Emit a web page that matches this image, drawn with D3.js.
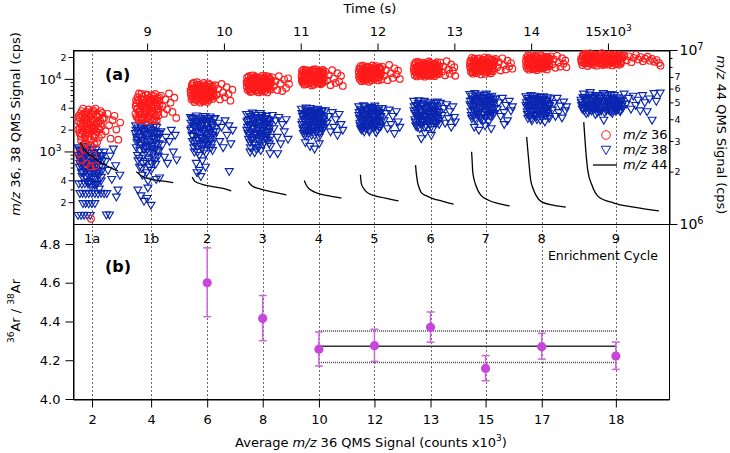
<!DOCTYPE html>
<html><head><meta charset="utf-8">
<script src="https://cdn.jsdelivr.net/npm/d3@7"></script>
<style>body{margin:0;background:#fff} svg{display:block} text{font-family:"DejaVu Sans",sans-serif}</style>
</head><body><svg id="c" width="730" height="453"></svg>
<script>
// ---------------- DATA ----------------
const cycleLabels = ["1a","1b","2","3","4","5","6","7","8","9"];
const cycleTimes = [8283, 9052, 9782, 10505, 11237, 11960, 12690, 13407, 14138, 15103];
const avgSignalLabels = ["2","4","6","8","10","12","13","15","17","18"];
const ratio     = [null, null, 4.600, 4.416, 4.257, 4.275, 4.370, 4.158, 4.270, 4.222];
const ratioHigh = [null, null, 4.780, 4.534, 4.346, 4.360, 4.449, 4.224, 4.339, 4.294];
const ratioLow  = [null, null, 4.425, 4.301, 4.170, 4.194, 4.293, 4.094, 4.206, 4.153];
const meanRatio = [4.272];
const meanBand = [4.188, 4.351];
const timeTicks = [9000, 10000, 11000, 12000, 13000, 14000, 15000];
const timeTickLabels = ["9","10","11","12","13","14","15x10^3"];
const leftTickValues = [200,300,400,500,600,700,800,900,1000,2000,3000,4000,5000,6000,7000,8000,9000,10000,20000];
const leftMajor = [1000, 10000];
const leftMinorLabeled = [200, 400, 2000, 4000, 20000];
const rightTickValues = [1e6,2e6,3e6,4e6,5e6,6e6,7e6,8e6,9e6,1e7];
const rightMajor = [1e6, 1e7];
const rightMinorLabeled = [2e6,3e6,4e6,5e6,6e6,7e6];
const bottomLeftTicks = [4.0, 4.2, 4.4, 4.6, 4.8];

// m/z 36 signal (cps) per enrichment cycle: [time s, cps]
const mz36 = [
 [[8105,2600],[8120,1800],[8130,3300],[8140,1400],[8150,2200],[8165,3900],[8175,1250],[8185,2900],[8195,1700],[8205,2400],[8215,3500],[8230,1500],[8240,2050],[8250,3000],[8262,1200],[8275,2700],[8285,1900],[8298,3700],[8310,1600],[8322,2300],[8335,3200],[8350,1350],[8365,2500],[8380,2000],[8395,3600],[8410,1700],[8420,2800],
  [8110,3100],[8124,2100],[8136,1600],[8146,3600],[8158,2500],[8170,1900],[8190,3400],[8202,1300],[8212,2800],[8224,2000],[8236,3800],[8246,1650],[8256,2350],[8268,1450],[8280,3300],[8292,2150],[8305,2750],[8316,1250],[8328,3900],[8342,1850],[8356,2950],[8372,1550],[8388,2650],[8402,2200],[8416,3400],
  [8103,2000],[8117,2900],[8132,2400],[8143,1750],[8155,3100],[8167,2250],[8178,2650],[8188,1550],[8200,3000],[8210,2100],[8220,1800],[8233,2600],[8244,3300],[8253,1950],[8265,2500],[8277,2200],[8288,3500],[8300,2550],[8313,2000],[8326,1700],[8338,2450],[8353,3000],[8368,2100],[8384,3200],[8399,2400],
  [8115,950],[8140,760],[8180,1050],[8215,680],[8260,620],[8300,900],[8330,640],[8270,118],
  [8440,2900],[8460,1900],[8485,3300],[8505,2300],[8525,1500],[8550,2700],[8575,3100],[8600,2000],[8625,1450],[8650,2500]],
 [[8850,4200],[8862,3000],[8875,5600],[8888,2700],[8900,4800],[8912,3500],[8925,6200],[8938,2900],[8950,4000],[8962,5200],[8975,3300],[8988,2600],[9000,4500],[9012,6000],[9025,3800],[9038,2800],[9050,5000],[9062,3600],[9075,4300],[9088,5800],[9100,3100],[9112,4700],[9125,2650],[9138,5400],[9150,3900],[9162,4400],
  [8856,5100],[8868,3800],[8881,2900],[8894,6300],[8906,3200],[8918,4500],[8931,2750],[8944,5700],[8956,3700],[8968,4100],[8981,6100],[8994,3400],[9006,2900],[9018,4900],[9031,5500],[9044,3300],[9056,4100],[9068,2700],[9081,5300],[9094,3900],[9106,6200],[9118,3000],[9131,4600],[9144,3500],[9156,5600],
  [8847,3300],[8859,4600],[8871,3900],[8884,5000],[8897,3600],[8909,2900],[8922,4300],[8934,5100],[8947,3400],[8959,4700],[8971,2900],[8984,4200],[8997,5300],[9009,3700],[9021,4400],[9034,3100],[9047,4800],[9059,5900],[9071,3400],[9084,4500],[9097,2800],[9109,5100],[9121,3700],[9134,4200],[9147,3100],[9159,5000],
  [9180,5900],[9200,4200],[9220,3300],[9240,5200],[9260,3800],[9285,6300],[9305,4700],[9330,3500],[9355,5500],[9380,2900]],
 [[9565,7000],[9578,5200],[9590,8600],[9602,6100],[9615,4800],[9628,7600],[9640,5600],[9652,9000],[9665,6600],[9678,5000],[9690,8000],[9702,5900],[9715,7200],[9728,4900],[9740,8800],[9752,6300],[9765,5400],[9778,7800],[9790,6900],[9802,5100],[9815,8400],[9828,6000],[9840,7400],[9852,5300],[9865,6800],
  [9570,6000],[9584,7400],[9596,5400],[9608,8900],[9621,6400],[9634,5100],[9646,7100],[9658,5800],[9671,8300],[9684,6200],[9696,4700],[9708,7800],[9721,5500],[9734,6900],[9746,8200],[9758,5000],[9771,6700],[9784,4800],[9796,8700],[9808,6300],[9821,5600],[9834,7900],[9846,6500],[9858,7300],[9870,5700],
  [9568,6500],[9581,8100],[9593,5700],[9605,7200],[9618,6700],[9631,5300],[9643,8200],[9655,6200],[9668,7300],[9681,5500],[9693,6600],[9705,7500],[9718,5200],[9731,6100],[9743,7100],[9755,5700],[9768,8000],[9781,6300],[9793,5600],[9805,7000],[9818,6100],[9831,6800],[9843,5800],[9855,8000],[9868,6300],
  [9885,8200],[9905,6000],[9925,7300],[9948,5200],[9970,8500],[9990,6500],[10012,5600],[10035,7700],[10060,6200],[10085,5000],[10110,7100]],
 [[10295,9000],[10308,7000],[10320,10800],[10333,8000],[10345,6600],[10358,9800],[10370,7400],[10383,11200],[10395,8500],[10408,6900],[10420,10200],[10433,7800],[10445,9300],[10458,6500],[10470,8800],[10483,10500],[10495,7200],[10508,9600],[10520,8200],[10533,6800],[10545,11000],[10558,7600],[10570,9100],[10583,8300],[10595,10000],[10608,7100],
  [10301,10400],[10314,8400],[10326,7300],[10339,9500],[10351,11100],[10364,6700],[10376,8900],[10389,9900],[10401,7600],[10414,10700],[10426,8300],[10439,6600],[10451,10300],[10464,7500],[10476,9400],[10489,6900],[10501,11100],[10514,8600],[10526,7400],[10539,10000],[10551,8100],[10564,6500],[10576,10600],[10589,7800],[10601,9200],[10612,8700],
  [10298,7800],[10311,9400],[10323,8700],[10336,7100],[10348,10200],[10361,8400],[10373,9700],[10386,7300],[10398,10400],[10411,8200],[10423,9000],[10436,7000],[10448,8600],[10461,10000],[10473,7800],[10486,9100],[10498,8300],[10511,7000],[10523,10300],[10536,8900],[10548,7700],[10561,9700],[10573,8000],[10586,10700],[10598,7400],[10610,9800],
  [10630,10500],[10650,8000],[10672,9300],[10695,7000],[10715,10900],[10738,8600],[10760,6800],[10785,9800],[10810,7500],[10835,10200],[10848,8500]],
 [[11010,11000],[11022,9000],[11034,13400],[11046,8300],[11058,12000],[11070,9800],[11082,10700],[11094,8600],[11106,13000],[11118,9400],[11130,11600],[11142,8100],[11154,12500],[11166,10200],[11178,9100],[11190,13600],[11202,10900],[11214,8800],[11226,12200],[11238,9600],[11250,11300],[11262,8400],[11274,12800],[11286,10000],[11298,11800],
  [11016,12800],[11028,10300],[11040,9100],[11052,11500],[11064,8500],[11076,13200],[11088,10000],[11100,11900],[11112,8900],[11124,12400],[11136,10600],[11148,9700],[11160,13400],[11172,8300],[11184,11200],[11196,9800],[11208,12600],[11220,10500],[11232,8700],[11244,13000],[11256,9900],[11268,11700],[11280,8800],[11292,12300],[11304,10400],
  [11013,9600],[11025,12100],[11037,10600],[11049,9700],[11061,13100],[11073,10200],[11085,12000],[11097,9200],[11109,11000],[11121,10200],[11133,8700],[11145,12900],[11157,11000],[11169,9600],[11181,12600],[11193,10500],[11205,9500],[11217,11500],[11229,10100],[11241,12100],[11253,9000],[11265,10900],[11277,9800],[11289,13300],[11301,9100],
  [11320,12600],[11342,9500],[11365,11300],[11388,8200],[11410,13200],[11432,10100],[11455,8800],[11478,12000],[11500,9200],[11525,11000],[11548,8000]],
 [[11755,12500],[11767,10000],[11779,15000],[11791,9300],[11803,13500],[11815,11000],[11827,12000],[11839,9700],[11851,14500],[11863,10500],[11875,13000],[11887,9100],[11899,14000],[11911,11500],[11923,10200],[11935,15300],[11947,12300],[11959,9900],[11971,13700],[11983,10800],[11995,12700],[12007,9500],[12019,14300],[12031,11200],[12043,13200],
  [11761,14000],[11773,11300],[11785,12800],[11797,10400],[11809,15200],[11821,9400],[11833,13400],[11845,11800],[11857,10100],[11869,14800],[11881,12200],[11893,10700],[11905,13100],[11917,9600],[11929,14100],[11941,11100],[11953,13600],[11965,10400],[11977,12500],[11989,15000],[12001,11700],[12013,10600],[12025,13900],[12037,12100],[12047,9800],
  [11758,10800],[11770,13600],[11782,11600],[11794,12500],[11806,10100],[11818,14200],[11830,11000],[11842,12900],[11854,11700],[11866,9800],[11878,14400],[11890,12600],[11902,11200],[11914,13400],[11926,10500],[11938,12800],[11950,11400],[11962,14600],[11974,10600],[11986,13300],[11998,11600],[12010,12200],[12022,10400],[12034,14200],[12045,11800],
  [12062,14800],[12085,11000],[12108,13200],[12130,9600],[12152,15600],[12175,12000],[12198,10300],[12220,14000],[12245,11500],[12268,13000],[12290,10000]],
 [[12472,14000],[12485,11200],[12498,17000],[12511,10800],[12524,15200],[12537,12300],[12550,13400],[12563,11000],[12576,16400],[12589,11800],[12602,14600],[12615,10700],[12628,15800],[12641,12900],[12654,11500],[12667,17400],[12680,13800],[12693,11100],[12706,15500],[12719,12100],[12732,14300],[12745,10900],[12758,16200],[12771,12600],[12784,14900],[12797,11600],
  [12478,16000],[12491,12700],[12504,14400],[12517,11600],[12530,17200],[12543,13100],[12556,15400],[12569,12000],[12582,14000],[12595,16800],[12608,11300],[12621,13600],[12634,16000],[12647,12200],[12660,14900],[12673,11000],[12686,16600],[12699,13200],[12712,12300],[12725,15900],[12738,11700],[12751,14100],[12764,13000],[12777,17000],[12790,12500],[12803,15000],
  [12475,12700],[12488,15500],[12501,13100],[12514,14700],[12527,12100],[12540,16300],[12553,11600],[12566,14500],[12579,12700],[12592,13600],[12605,15900],[12618,12500],[12631,14200],[12644,11300],[12657,16200],[12670,13200],[12683,12000],[12696,14800],[12709,13700],[12722,11300],[12735,15700],[12748,12800],[12761,14600],[12774,11700],[12787,13600],[12800,12900],
  [12820,16800],[12840,12500],[12860,14800],[12880,11200],[12900,17500],[12920,13500],[12940,11800],[12960,15800],[12980,12900],[13000,14500],[13012,11000]],
 [[13202,16000],[13215,12500],[13228,19500],[13241,11800],[13254,17500],[13267,13800],[13280,15000],[13293,12000],[13306,18800],[13319,13200],[13332,16500],[13345,11500],[13358,18000],[13371,14500],[13384,12800],[13397,19800],[13410,15500],[13423,12300],[13436,17200],[13449,13500],[13462,16200],[13475,11900],[13488,18500],[13501,14000],[13514,16800],
  [13208,17800],[13221,14200],[13234,12300],[13247,16200],[13260,19000],[13273,12600],[13286,17600],[13299,14900],[13312,13000],[13325,19200],[13338,15200],[13351,12700],[13364,16800],[13377,13900],[13390,18300],[13403,11700],[13416,17000],[13429,14700],[13442,19400],[13455,12500],[13468,15700],[13481,17900],[13494,13300],[13507,15100],[13520,18000],
  [13205,14300],[13218,17000],[13231,15200],[13244,13200],[13257,15800],[13270,18200],[13283,13200],[13296,16100],[13309,14400],[13322,17300],[13335,13700],[13348,15900],[13361,14900],[13374,17700],[13387,15600],[13400,13400],[13413,16600],[13426,13800],[13439,15300],[13452,18600],[13465,14400],[13478,16700],[13491,15200],[13504,12700],[13517,17300],
  [13537,18800],[13558,14500],[13580,17000],[13602,13000],[13625,19200],[13648,15500],[13670,13500],[13692,17800],[13715,14800],[13738,16500],[13756,13800]],
 [[13932,17500],[13945,14000],[13958,21000],[13971,13400],[13984,19000],[13997,15500],[14010,16700],[14023,13600],[14036,20300],[14049,14800],[14062,18200],[14075,13200],[14088,19700],[14101,16000],[14114,14300],[14127,21200],[14140,17000],[14153,13900],[14166,18800],[14179,15200],[14192,17800],[14205,13500],[14218,20000],[14231,15800],[14240,18500],
  [13938,19800],[13951,15800],[13964,17300],[13977,14600],[13990,20800],[14003,16300],[14016,18600],[14029,14000],[14042,17600],[14055,20900],[14068,15400],[14081,17000],[14094,14100],[14107,19000],[14120,16600],[14133,13800],[14146,20500],[14159,15600],[14172,17400],[14185,19900],[14198,14600],[14211,16800],[14224,18900],[14236,14900],
  [13935,15200],[13948,18500],[13961,16200],[13974,19500],[13987,14400],[14000,17900],[14013,15400],[14026,19200],[14039,16100],[14052,13800],[14065,19600],[14078,16400],[14091,17900],[14104,14900],[14117,18400],[14130,15600],[14143,19100],[14156,16900],[14169,14300],[14182,17300],[14195,20100],[14208,15100],[14221,17100],[14234,19300],
  [14255,20500],[14275,15800],[14296,18500],[14317,14200],[14338,20800],[14360,16800],[14380,14800],[14402,19300],[14423,16200],[14445,18000],[14460,14500]],
 [[14650,19000],[14667,15500],[14684,22000],[14701,16500],[14718,20500],[14735,15000],[14752,18000],[14769,22500],[14786,16000],[14803,19500],[14820,17200],[14837,21500],[14854,15200],[14871,18800],[14888,20000],[14905,16800],[14922,22700],[14939,17500],[14956,15800],[14973,21000],[14990,18300],[15007,16200],[15024,20300],[15041,17800],[15058,15300],[15075,19200],[15092,21800],[15109,16600],[15126,18600],[15143,15600],[15160,20800],[15177,17300],[15190,19800],
  [14658,17000],[14675,20500],[14692,18000],[14709,22300],[14726,16800],[14743,19800],[14760,16200],[14777,20700],[14794,18500],[14811,15600],[14828,21000],[14845,17800],[14862,19600],[14879,16300],[14896,22000],[14913,18200],[14930,15500],[14947,20300],[14964,17100],[14981,19400],[14998,15700],[15015,21800],[15032,18900],[15049,16500],[15066,20800],[15083,17400],[15100,15900],[15117,20000],[15134,17600],[15151,19100],[15168,16100],[15185,21200],
  [14654,17800],[14671,21000],[14688,16400],[14705,19100],[14722,17700],[14739,21200],[14756,19300],[14773,17300],[14790,20700],[14807,16800],[14824,18900],[14841,20200],[14858,16900],[14875,21300],[14892,18100],[14909,19900],[14926,16400],[14943,18800],[14960,21400],[14977,16900],[14994,20000],[15011,17700],[15028,19500],[15045,21100],[15062,17000],[15079,18500],[15096,20300],[15113,17900],[15130,21000],[15147,18300],[15164,16900],[15181,19400],
  [15215,21000],[15245,18000],[15275,20500],[15305,17000],[15335,19500],[15365,21500],[15395,18500],[15425,20000],[15455,17500],[15485,19000],[15515,20200],[15545,17800],[15575,18800],[15605,17200],[15635,18200],[15665,16500],[15685,15200]]
];

// m/z 38 signal (cps) per enrichment cycle: [time s, cps]
const mz38 = [
 [[8105,1150],[8118,820],[8128,1000],[8140,640],[8150,900],[8162,530],[8175,1200],[8185,700],[8198,460],[8210,1050],[8222,580],[8235,380],[8248,850],[8260,500],[8272,330],[8285,740],[8298,420],[8310,950],[8325,560],[8340,360],[8355,660],[8370,480],[8385,800],[8400,400],[8415,620],
  [8110,1100],[8122,700],[8134,900],[8145,520],[8156,780],[8168,1000],[8180,600],[8192,850],[8204,440],[8216,700],[8228,1150],[8242,620],[8254,390],[8266,960],[8278,560],[8290,450],[8304,820],[8318,350],[8332,1080],[8346,500],[8362,720],[8378,310],[8392,900],[8408,540],[8420,760],
  [8103,900],[8116,620],[8131,760],[8142,1050],[8153,460],[8166,700],[8179,880],[8190,540],[8202,1000],[8214,610],[8226,800],[8238,470],[8250,700],[8263,900],[8276,620],[8288,1100],[8301,540],[8314,720],[8328,430],[8344,850],[8359,560],[8374,990],[8389,640],[8404,450],[8418,880],
  [8110,365],[8150,362],[8190,366],[8230,364],[8270,365],[8310,363],[8350,366],
  [8125,268],[8160,270],[8200,266],[8240,268],[8280,270],[8320,268],[8360,266],[8400,270],[8440,268],[8475,268],
  [8165,195],[8200,196],[8240,194],[8280,196],[8320,195],
  [8100,134],[8140,134],[8180,135],[8220,134],[8260,134],[8470,136],[8510,136],
  [8440,1000],[8460,740],[8490,560],[8520,880],[8540,420],[8560,1100],[8590,650],[8620,300],[8645,480],[8600,240]],
 [[8850,2300],[8862,1600],[8875,900],[8888,1900],[8900,620],[8912,1300],[8925,2100],[8938,480],[8950,1100],[8962,1700],[8975,750],[8988,2350],[9000,1400],[9012,400],[9025,1000],[9038,1800],[9050,560],[9062,1200],[9075,2000],[9088,850],[9100,1500],[9112,680],[9125,2200],[9138,1050],[9150,1600],[9162,440],
  [8856,2000],[8868,1350],[8881,760],[8894,1600],[8906,1050],[8918,2250],[8931,600],[8944,1450],[8956,900],[8968,1900],[8981,1150],[8994,520],[9006,1700],[9018,800],[9031,2150],[9044,1250],[9056,700],[9068,1550],[9081,950],[9094,2300],[9106,1100],[9118,420],[9131,1750],[9144,880],[9156,1300],
  [8847,1800],[8859,1150],[8871,1450],[8884,2150],[8897,820],[8909,1600],[8922,1250],[8934,2000],[8947,700],[8959,1350],[8971,1750],[8984,1000],[8997,2100],[9009,1200],[9021,1500],[9034,620],[9047,1400],[9059,1850],[9071,1100],[9084,1650],[9097,760],[9109,1900],[9121,1300],[9134,1550],[9147,1000],[9159,1800],
  [8880,300],[8920,250],[8960,210],[9000,230],[9050,185],[9010,320],
  [9180,1900],[9200,1250],[9225,850],[9245,1600],[9265,700],[9290,1400],[9315,2000],[9340,1000],[9365,1700],[9385,780]],
 [[9565,3000],[9578,2100],[9590,1400],[9602,2600],[9615,1000],[9628,1800],[9640,3150],[9652,1200],[9665,2300],[9678,900],[9690,1600],[9702,2800],[9715,1100],[9728,2000],[9740,1350],[9752,3100],[9765,950],[9778,2400],[9790,1700],[9802,1250],[9815,2700],[9828,1500],[9840,2200],[9852,1050],[9865,1900],
  [9570,2500],[9584,1700],[9596,2900],[9608,1150],[9621,2200],[9634,1450],[9646,2650],[9658,1000],[9671,1900],[9684,2950],[9696,1300],[9708,2100],[9721,1550],[9734,2750],[9746,1050],[9758,1800],[9771,2500],[9784,1250],[9796,2050],[9808,1600],[9821,3050],[9834,1150],[9846,2350],[9858,1700],[9870,2800],
  [9568,2000],[9581,2800],[9593,1650],[9605,2300],[9618,1300],[9631,2650],[9643,1900],[9655,2450],[9668,1450],[9681,2150],[9693,2600],[9705,1550],[9718,2350],[9731,1250],[9743,1950],[9755,2700],[9768,1500],[9781,2100],[9793,2900],[9805,1400],[9818,1850],[9831,2550],[9843,1300],[9855,2200],[9868,1600],
  [9640,700],[9680,560],[9720,760],[9700,460],[9760,620],[9650,520],
  [9885,2900],[9905,1900],[9925,2500],[9945,1400],[9970,2200],[9990,1150],[10015,2700],[10040,1700],[10065,2300],[10090,1300],[10115,2000],[10070,540]],
 [[10295,3300],[10308,2200],[10320,1500],[10333,2800],[10345,1150],[10358,1900],[10370,3450],[10383,1300],[10395,2500],[10408,1700],[10420,1100],[10433,3000],[10445,2000],[10458,1400],[10470,2700],[10483,1800],[10495,3200],[10508,1250],[10520,2300],[10533,1600],[10545,2900],[10558,1900],[10570,1450],[10583,2600],[10595,2100],[10608,1200],
  [10301,2600],[10314,1800],[10326,3300],[10339,1350],[10351,2400],[10364,1600],[10376,2900],[10389,2100],[10401,1250],[10414,3200],[10426,1750],[10439,2500],[10451,1150],[10464,2200],[10476,3400],[10489,1500],[10501,2000],[10514,2800],[10526,1350],[10539,2400],[10551,3100],[10564,1700],[10576,2200],[10589,1300],[10601,2700],
  [10298,2000],[10311,2700],[10323,1700],[10336,2300],[10348,3100],[10361,1450],[10373,2200],[10386,2600],[10398,1800],[10411,2350],[10423,2900],[10436,1550],[10448,2150],[10461,1800],[10473,2500],[10486,3000],[10498,1650],[10511,2600],[10523,1900],[10536,2200],[10548,1500],[10561,2500],[10573,2800],[10586,1900],[10598,2400],[10610,1600],
  [10340,1000],[10400,980],[10480,1050],[10600,950],
  [10630,3200],[10650,2100],[10672,2700],[10695,1600],[10715,3000],[10738,1300],[10760,2400],[10785,1900],[10810,2800],[10835,1500],[10700,950]],
 [[11010,3900],[11022,2600],[11034,1800],[11046,3300],[11058,2200],[11070,4050],[11082,1650],[11094,2900],[11106,2000],[11118,3600],[11130,2400],[11142,1700],[11154,3100],[11166,2100],[11178,3800],[11190,2700],[11202,1900],[11214,3400],[11226,2300],[11238,1600],[11250,3000],[11262,2500],[11274,3700],[11286,2000],[11298,2800],
  [11016,3400],[11028,2100],[11040,2800],[11052,1700],[11064,3700],[11076,2300],[11088,3200],[11100,1800],[11112,2600],[11124,4000],[11136,1900],[11148,2900],[11160,2300],[11172,3500],[11184,1700],[11196,3000],[11208,2200],[11220,3900],[11232,2600],[11244,1800],[11256,3300],[11268,2100],[11280,3600],[11292,2400],[11304,3100],
  [11013,2400],[11025,3100],[11037,2000],[11049,2700],[11061,3400],[11073,1900],[11085,2600],[11097,3600],[11109,2300],[11121,2900],[11133,3300],[11145,2200],[11157,2700],[11169,3700],[11181,2000],[11193,3200],[11205,2500],[11217,2900],[11229,3500],[11241,2100],[11253,2700],[11265,3200],[11277,2300],[11289,2900],[11301,2200],
  [11060,1350],[11120,1200],[11180,1100],[11240,1300],
  [11320,3700],[11342,2500],[11365,3100],[11388,1900],[11410,3500],[11432,2200],[11455,2800],[11478,1700],[11500,3300],[11525,2400],[11548,2000]],
 [[11755,4200],[11767,2900],[11779,2100],[11791,3600],[11803,2500],[11815,4350],[11827,1900],[11839,3200],[11851,2300],[11863,3900],[11875,2700],[11887,2000],[11899,3400],[11911,2400],[11923,4100],[11935,3000],[11947,2150],[11959,3700],[11971,2600],[11983,1850],[11995,3300],[12007,2800],[12019,4000],[12031,2200],[12043,3100],
  [11761,3500],[11773,2300],[11785,3900],[11797,2000],[11809,3100],[11821,2700],[11833,4200],[11845,2100],[11857,3600],[11869,2500],[11881,3300],[11893,1900],[11905,4000],[11917,2800],[11929,3500],[11941,2200],[11953,3000],[11965,4300],[11977,2400],[11989,3400],[12001,2000],[12013,3800],[12025,2600],[12037,3500],[12047,2300],
  [11758,3200],[11770,2500],[11782,3700],[11794,2800],[11806,2200],[11818,3400],[11830,2900],[11842,3800],[11854,2600],[11866,3100],[11878,2200],[11890,3600],[11902,2700],[11914,3300],[11926,2400],[11938,3900],[11950,2800],[11962,3200],[11974,2300],[11986,3700],[11998,2700],[12010,3200],[12022,2200],[12034,3000],[12045,2600],
  [12062,4000],[12085,2700],[12108,3400],[12130,2100],[12152,3800],[12175,2400],[12198,3100],[12220,1800],[12245,3600],[12268,2600],[12290,2200]],
 [[12472,5000],[12485,3400],[12498,2300],[12511,4300],[12524,2900],[12537,5100],[12550,2100],[12563,3800],[12576,2600],[12589,4600],[12602,3100],[12615,2200],[12628,4000],[12641,2800],[12654,4800],[12667,3500],[12680,2400],[12693,4400],[12706,3000],[12719,2050],[12732,3900],[12745,3300],[12758,4700],[12771,2500],[12784,3600],[12797,2700],
  [12478,4200],[12491,2600],[12504,3700],[12517,2200],[12530,4700],[12543,3000],[12556,3500],[12569,2400],[12582,4300],[12595,2800],[12608,5000],[12621,3300],[12634,2300],[12647,4100],[12660,2700],[12673,4600],[12686,3100],[12699,2200],[12712,3800],[12725,2900],[12738,4400],[12751,2500],[12764,3600],[12777,4900],[12790,3200],[12803,2400],
  [12475,3700],[12488,2800],[12501,4400],[12514,3200],[12527,2600],[12540,4000],[12553,3500],[12566,2700],[12579,4500],[12592,3200],[12605,2600],[12618,3900],[12631,3000],[12644,4300],[12657,2500],[12670,3700],[12683,3300],[12696,2700],[12709,4200],[12722,3400],[12735,2600],[12748,3800],[12761,3000],[12774,4300],[12787,2900],[12800,3500],
  [12570,1530],[12620,1800],[12700,1700],
  [12820,4700],[12840,3200],[12860,4000],[12880,2500],[12900,4500],[12920,2900],[12940,3600],[12960,2200],[12980,4200],[13000,3000],[13012,2600]],
 [[13202,6200],[13215,4300],[13228,2900],[13241,5400],[13254,3600],[13267,6400],[13280,2700],[13293,4800],[13306,3300],[13319,5800],[13332,3900],[13345,2800],[13358,5100],[13371,3500],[13384,6000],[13397,4400],[13410,3000],[13423,5600],[13436,3800],[13449,2600],[13462,4900],[13475,4100],[13488,5900],[13501,3200],[13514,4600],
  [13208,5000],[13221,3200],[13234,5900],[13247,3800],[13260,4600],[13273,2900],[13286,5300],[13299,3600],[13312,6100],[13325,4100],[13338,3000],[13351,5600],[13364,4400],[13377,2700],[13390,5000],[13403,3700],[13416,6300],[13429,3300],[13442,4500],[13455,5700],[13468,3100],[13481,4800],[13494,3500],[13507,5400],[13520,4000],
  [13205,4500],[13218,3600],[13231,5200],[13244,4200],[13257,3200],[13270,5000],[13283,3900],[13296,5600],[13309,4300],[13322,3400],[13335,4800],[13348,3900],[13361,5500],[13374,3300],[13387,4600],[13400,5200],[13413,3600],[13426,4200],[13439,5000],[13452,3300],[13465,4400],[13478,5300],[13491,3800],[13504,4900],[13517,3400],
  [13260,2200],[13320,2000],[13400,2300],[13480,2100],
  [13537,5400],[13558,3900],[13580,4800],[13602,3100],[13625,5500],[13648,3500],[13670,4400],[13692,2700],[13715,5000],[13738,3700],[13756,4200],[13650,2400]],
 [[13932,5800],[13945,4100],[13958,2900],[13971,5200],[13984,3500],[13997,6000],[14010,2700],[14023,4600],[14036,3200],[14049,5500],[14062,3800],[14075,2800],[14088,5000],[14101,3400],[14114,5700],[14127,4200],[14140,3000],[14153,5300],[14166,3700],[14179,2600],[14192,4700],[14205,4000],[14218,5600],[14231,3100],[14240,4400],
  [13938,4800],[13951,3300],[13964,5500],[13977,3900],[13990,4400],[14003,2900],[14016,5100],[14029,3600],[14042,5900],[14055,4100],[14068,3100],[14081,4700],[14094,5400],[14107,3700],[14120,2750],[14133,4900],[14146,3400],[14159,5800],[14172,4300],[14185,3200],[14198,5200],[14211,3600],[14224,4500],[14236,2900],
  [13935,4400],[13948,3600],[13961,5000],[13974,4300],[13987,3100],[14000,4800],[14013,3800],[14026,5300],[14039,4000],[14052,3300],[14065,4600],[14078,3700],[14091,5200],[14104,4400],[14117,3300],[14130,4700],[14143,3900],[14156,5000],[14169,3500],[14182,4400],[14195,3800],[14208,5000],[14221,3400],[14234,4200],
  [14255,5400],[14275,3800],[14296,4700],[14317,3100],[14338,5500],[14360,3500],[14380,4300],[14402,2950],[14423,4900],[14445,3700],[14460,4200]],
 [[14650,5200],[14667,3900],[14684,6300],[14701,4500],[14718,3400],[14735,5700],[14752,4200],[14769,6600],[14786,3700],[14803,5000],[14820,4400],[14837,3300],[14854,6000],[14871,4700],[14888,3600],[14905,5500],[14922,4100],[14939,6400],[14956,3500],[14973,4900],[14990,5800],[15007,3800],[15024,4600],[15041,6200],[15058,3400],[15075,5300],[15092,4300],[15109,3900],[15126,5600],[15143,4800],[15160,3600],[15177,5100],[15190,4000],
  [14658,4400],[14675,5600],[14692,3700],[14709,5300],[14726,4600],[14743,3500],[14760,6100],[14777,4300],[14794,5500],[14811,3800],[14828,5200],[14845,4600],[14862,3500],[14879,5900],[14896,4200],[14913,3700],[14930,5100],[14947,4500],[14964,6100],[14981,3900],[14998,5000],[15015,4400],[15032,3600],[15049,5500],[15066,4100],[15083,6000],[15100,3700],[15117,4700],[15134,4200],[15151,5400],[15168,3800],[15185,4600],
  [14654,4800],[14671,4100],[14688,5600],[14705,4000],[14722,5000],[14739,4300],[14756,3800],[14773,5400],[14790,4500],[14807,4100],[14824,5700],[14841,3900],[14858,4900],[14875,4300],[14892,5200],[14909,3900],[14926,4800],[14943,5500],[14960,4200],[14977,3700],[14994,4500],[15011,5200],[15028,4000],[15045,4800],[15062,3700],[15079,4500],[15096,5100],[15113,4400],[15130,3800],[15147,4400],[15164,5000],[15181,4300],
  [14946,2750],
  [15210,6300],[15240,4600],[15270,5500],[15300,3900],[15330,5900],[15360,4400],[15390,5200],[15420,3700],[15450,6000],[15480,4800],[15510,3600],[15540,5400],[15575,2750],[15600,6400],[15630,5000],[15680,6500]]
];

// m/z 44 signal (cps) per enrichment cycle: [time s, cps]
const mz44 = [
 [[8126,2.95e6],[8200,2.62e6],[8296,2.42e6],[8380,2.28e6],[8465,2.17e6],[8545,2.08e6],[8622,2.02e6]],
 [[8857,2.0e6],[8920,1.9e6],[8974,1.85e6],[9060,1.8e6],[9143,1.78e6],[9240,1.76e6],[9339,1.73e6]],
 [[9587,1.86e6],[9620,1.76e6],[9665,1.72e6],[9740,1.68e6],[9822,1.65e6],[9991,1.6e6],[10095,1.55e6]],
 [[10317,1.76e6],[10350,1.68e6],[10382,1.64e6],[10450,1.6e6],[10513,1.57e6],[10660,1.52e6],[10813,1.47e6]],
 [[11047,1.78e6],[11070,1.68e6],[11099,1.61e6],[11150,1.55e6],[11204,1.51e6],[11370,1.45e6],[11530,1.41e6]],
 [[11777,1.92e6],[11790,1.7e6],[11820,1.6e6],[11856,1.53e6],[11947,1.46e6],[12100,1.41e6],[12273,1.36e6]],
 [[12495,2.18e6],[12505,1.95e6],[12521,1.74e6],[12545,1.6e6],[12573,1.51e6],[12640,1.45e6],[12703,1.41e6],[12850,1.35e6],[12990,1.3e6]],
 [[13225,2.6e6],[13232,2.3e6],[13238,2.04e6],[13255,1.82e6],[13277,1.68e6],[13342,1.47e6],[13447,1.37e6],[13580,1.31e6],[13721,1.27e6]],
 [[13942,3.16e6],[13955,2.7e6],[13968,2.33e6],[13994,1.79e6],[14030,1.58e6],[14060,1.47e6],[14138,1.34e6],[14300,1.28e6],[14451,1.25e6]],
 [[14685,3.85e6],[14698,3.2e6],[14711,2.66e6],[14737,2.04e6],[14790,1.68e6],[14881,1.43e6],[15077,1.32e6],[15337,1.25e6],[15663,1.19e6]]
];

// ---------------- DRAW ----------------
const FONT = '"DejaVu Sans", sans-serif';
const svg = d3.select('#c');
const x = d3.scaleLinear().domain([8035, 15795]).range([73, 669]);
const yL = d3.scaleLog().domain([100, 25000]).range([224, 50]);
const yR = d3.scaleLog().domain([1e6, 1e7]).range([224, 50]);
const yB = d3.scaleLinear().domain([4.0, 4.9]).range([399, 224.6]);
const px = v => Math.round(v) + 0.5;

// dashed cycle lines
svg.append('g').selectAll('line').data(cycleTimes).join('line')
  .attr('x1', d => px(x(d))).attr('x2', d => px(x(d)))
  .attr('y1', 50).attr('y2', 399)
  .attr('stroke', '#6a6a6a').attr('stroke-width', 1).attr('stroke-dasharray', '2,2');

// frame
svg.append('rect').attr('x', 73.5).attr('y', 50.5).attr('width', 596).attr('height', 349)
  .attr('fill', 'none').attr('stroke', '#000').attr('stroke-width', 1);
svg.append('line').attr('x1', 73).attr('x2', 670).attr('y1', 224.5).attr('y2', 224.5)
  .attr('stroke', '#000').attr('stroke-width', 1);

function sup(textSel, base, exp) {
  textSel.text(null);
  textSel.append('tspan').text(base);
  textSel.append('tspan').attr('dy', '-0.55em').attr('font-size', '0.7em').text(exp);
}
function styleAxis(g, size) {
  g.attr('font-family', FONT).attr('font-size', size);
  g.selectAll('path.domain').attr('stroke', '#000');
  g.selectAll('.tick line').attr('stroke', '#000');
  g.selectAll('.tick text').attr('fill', '#000');
}

// top time axis
const gTop = svg.append('g').attr('transform', 'translate(0,50.5)')
  .call(d3.axisTop(x).tickValues(timeTicks).tickSize(7).tickSizeOuter(0).tickPadding(8)
    .tickFormat((d, i) => timeTickLabels[i]));
styleAxis(gTop, 13);
gTop.selectAll('.tick text').each(function(d, i) {
  const s = timeTickLabels[i];
  if (s.includes('^')) { const [b, e] = s.split('^'); sup(d3.select(this), b, e); }
});
svg.append('text').attr('x', 370).attr('y', 13).attr('text-anchor', 'middle')
  .attr('font-size', 13).text('Time (s)');

// left log axis (a)
const gL = svg.append('g').attr('transform', 'translate(73.5,0)')
  .call(d3.axisLeft(yL).tickValues(leftTickValues).tickSizeOuter(0).tickFormat(''));
styleAxis(gL, 13);
gL.selectAll('.tick').each(function(d) {
  const t = d3.select(this);
  const line = t.select('line'), txt = t.select('text');
  if (leftMajor.includes(d)) {
    line.attr('x2', -9);
    txt.attr('x', -12).attr('font-size', 13);
    sup(txt, '10', String(Math.round(Math.log10(d))));
  } else if (leftMinorLabeled.includes(d)) {
    line.attr('x2', -5);
    txt.attr('x', -7).attr('font-size', 9.5).text(String(d / Math.pow(10, Math.floor(Math.log10(d)))));
  } else {
    line.attr('x2', -3);
  }
});

// right log axis (a)
const gR = svg.append('g').attr('transform', 'translate(669.5,0)')
  .call(d3.axisRight(yR).tickValues(rightTickValues).tickSizeOuter(0).tickFormat(''));
styleAxis(gR, 13);
gR.selectAll('.tick').each(function(d) {
  const t = d3.select(this);
  const line = t.select('line'), txt = t.select('text');
  if (rightMajor.includes(d)) {
    line.attr('x2', 8);
    txt.attr('x', 10).attr('font-size', 14);
    sup(txt, '10', String(Math.round(Math.log10(d))));
  } else if (rightMinorLabeled.includes(d)) {
    line.attr('x2', 4);
    txt.attr('x', 5).attr('font-size', 9.5).text(String(d / 1e6));
  } else {
    line.attr('x2', 3);
  }
});

// left linear axis (b)
const gB = svg.append('g').attr('transform', 'translate(73.5,0)')
  .call(d3.axisLeft(yB).tickValues(bottomLeftTicks).tickSize(8).tickPadding(5).tickSizeOuter(0)
    .tickFormat(d3.format('.1f')));
styleAxis(gB, 13);

// bottom axis
const gX = svg.append('g').attr('transform', 'translate(0,399.5)')
  .call(d3.axisBottom(x).tickValues(cycleTimes).tickSize(8).tickPadding(7).tickSizeOuter(0)
    .tickFormat((d, i) => avgSignalLabels[i]));
styleAxis(gX, 13);

// cycle labels
svg.append('g').selectAll('text').data(cycleTimes).join('text')
  .attr('x', d => x(d)).attr('y', 243).attr('text-anchor', 'middle').attr('font-size', 13)
  .text((d, i) => cycleLabels[i]);
svg.append('text').attr('x', 658).attr('y', 260).attr('text-anchor', 'end').attr('font-size', 12.5)
  .text('Enrichment Cycle');

// m/z 38 triangles
const tri = d3.symbol().type(d3.symbolTriangle).size(27)();
svg.append('g').selectAll('path').data(mz38.flat()).join('path')
  .attr('d', tri)
  .attr('transform', d => `translate(${x(d[0])},${yL(d[1])}) rotate(180)`)
  .attr('fill', 'none').attr('stroke', '#0a26b0').attr('stroke-width', 1.15);

// m/z 36 circles
svg.append('g').selectAll('circle').data(mz36.flat()).join('circle')
  .attr('cx', d => x(d[0])).attr('cy', d => yL(d[1])).attr('r', 3.3)
  .attr('fill', 'none').attr('stroke', '#ff1a1a').attr('stroke-width', 1.15);

// m/z 44 lines
const line44 = d3.line().x(d => x(d[0])).y(d => yR(d[1])).curve(d3.curveMonotoneX);
svg.append('g').selectAll('path').data(mz44).join('path')
  .attr('d', line44).attr('fill', 'none').attr('stroke', '#000').attr('stroke-width', 1.3);

// panel labels
svg.append('text').attr('x', 105).attr('y', 80).attr('font-size', 16).attr('font-weight', 'bold').text('(a)');
svg.append('text').attr('x', 105).attr('y', 272).attr('font-size', 16).attr('font-weight', 'bold').text('(b)');

// legend
const lg = svg.append('g').attr('font-size', 13);
lg.append('circle').attr('cx', 606).attr('cy', 135).attr('r', 4.3).attr('fill', 'none')
  .attr('stroke', '#ff1a1a').attr('stroke-width', 1);
lg.append('path').attr('d', d3.symbol().type(d3.symbolTriangle).size(40)())
  .attr('transform', 'translate(606,149) rotate(180)').attr('fill', 'none')
  .attr('stroke', '#0a26b0').attr('stroke-width', 1);
lg.append('line').attr('x1', 593).attr('x2', 617).attr('y1', 165).attr('y2', 165)
  .attr('stroke', '#000').attr('stroke-width', 1.3);
[['36', 139], ['38', 154], ['44', 169]].forEach(([m, yy]) => {
  const t = lg.append('text').attr('x', 623).attr('y', yy);
  t.append('tspan').attr('font-style', 'italic').text('m/z');
  t.append('tspan').text(' ' + m);
});

// axis titles
const tl = svg.append('text').attr('transform', 'translate(20,124) rotate(-90)')
  .attr('text-anchor', 'middle').attr('font-size', 13);
tl.append('tspan').attr('font-style', 'italic').text('m/z');
tl.append('tspan').text(' 36, 38 QMS Signal (cps)');

const tr = svg.append('text').attr('transform', 'translate(717,135) rotate(90)')
  .attr('text-anchor', 'middle').attr('font-size', 13);
tr.append('tspan').attr('font-style', 'italic').text('m/z');
tr.append('tspan').text(' 44 QMS Signal (cps)');

const tb = svg.append('text').attr('transform', 'translate(20,311) rotate(-90)')
  .attr('text-anchor', 'middle').attr('font-size', 13);
tb.append('tspan').attr('font-size', 9).attr('dy', -6).text('36');
tb.append('tspan').attr('dy', 6).text('Ar / ');
tb.append('tspan').attr('font-size', 9).attr('dy', -6).text('38');
tb.append('tspan').attr('dy', 6).text('Ar');

const tx = svg.append('text').attr('x', 371).attr('y', 447).attr('text-anchor', 'middle').attr('font-size', 13);
tx.append('tspan').text('Average ');
tx.append('tspan').attr('font-style', 'italic').text('m/z');
tx.append('tspan').text(' 36 QMS Signal (counts x10');
tx.append('tspan').attr('font-size', 9).attr('dy', -6).text('3');
tx.append('tspan').attr('dy', 6).text(')');

// panel (b): mean line and band
const x0 = x(cycleTimes[4]), x1 = x(cycleTimes[9]);
svg.append('g').selectAll('line').data(meanBand).join('line')
  .attr('x1', x0).attr('x2', x1).attr('y1', d => yB(d)).attr('y2', d => yB(d))
  .attr('stroke', '#444').attr('stroke-width', 1.5).attr('stroke-dasharray', '1,1');
svg.append('g').selectAll('line').data(meanRatio).join('line')
  .attr('x1', x0).attr('x2', x1).attr('y1', d => yB(d)).attr('y2', d => yB(d))
  .attr('stroke', '#333').attr('stroke-width', 1.5);

// ratio points with error bars
const pts = cycleTimes.map((t, i) => ({ t, v: ratio[i], lo: ratioLow[i], hi: ratioHigh[i] })).filter(d => d.v != null);
const eb = svg.append('g').attr('stroke', '#cc66dd').attr('stroke-width', 1.5);
eb.selectAll('line.v').data(pts).join('line').attr('class', 'v')
  .attr('x1', d => x(d.t)).attr('x2', d => x(d.t)).attr('y1', d => yB(d.lo)).attr('y2', d => yB(d.hi));
eb.selectAll('line.h').data(pts).join('line').attr('class', 'h')
  .attr('x1', d => x(d.t) - 4).attr('x2', d => x(d.t) + 4).attr('y1', d => yB(d.hi)).attr('y2', d => yB(d.hi));
eb.selectAll('line.l').data(pts).join('line').attr('class', 'l')
  .attr('x1', d => x(d.t) - 4).attr('x2', d => x(d.t) + 4).attr('y1', d => yB(d.lo)).attr('y2', d => yB(d.lo));
svg.append('g').selectAll('circle').data(pts).join('circle')
  .attr('cx', d => x(d.t)).attr('cy', d => yB(d.v)).attr('r', 4.6).attr('fill', '#c846dc');
</script></body></html>
